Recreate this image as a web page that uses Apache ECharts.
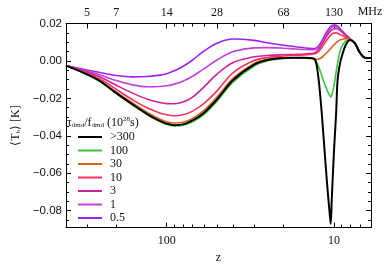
<!DOCTYPE html>
<html><head><meta charset="utf-8">
<script src="https://cdn.jsdelivr.net/npm/echarts@6/dist/echarts.min.js"></script>
<style>html,body{margin:0;padding:0;background:#fff}#c{width:390px;height:270px}</style>
</head><body><div id="c"></div>
<script>
// redshift sample points (x axis, log, reversed)
const redshifts = [400,300,250,200,160,130,110,100,90,80,70,60,50,40,30,25,20,17,15,14,13,12.5,12,11.5,11,10.6,10.45,10.3,10,9.7,9.5,9.2,9,8.5,8,7.5,7,6.5,6];
const seriesNames = ['>300','100','30','10','3','1','0.5'];
const seriesColors = ['#000000','#3cc43c','#e0601a','#f5315a','#d0209a','#c040d8','#a020f0'];
const tGt300 = [-0.0025,-0.0071,-0.0108,-0.0172,-0.0232,-0.0285,-0.0320,-0.0335,-0.0343,-0.0339,-0.0318,-0.0278,-0.0205,-0.0102,-0.0020,0.0005,0.0015,0.0017,0.0017,0.0016,0.0008,-0.0060,-0.0210,-0.0420,-0.0650,-0.0815,-0.0870,-0.0740,-0.0490,-0.0280,-0.0100,-0.0015,0.0020,0.0085,0.0112,0.0095,0.0045,0.0017,0.0016];
const t100 = [-0.0025,-0.0072,-0.0110,-0.0175,-0.0236,-0.0289,-0.0324,-0.0339,-0.0347,-0.0344,-0.0325,-0.0287,-0.0215,-0.0112,-0.0027,0.0000,0.0013,0.0016,0.0017,0.0016,0.0008,-0.0020,-0.0060,-0.0110,-0.0155,-0.0185,-0.0192,-0.0185,-0.0135,-0.0060,-0.0010,0.0050,0.0075,0.0106,0.0113,0.0095,0.0045,0.0017,0.0016];
const t30 = [-0.0025,-0.0069,-0.0105,-0.0166,-0.0225,-0.0276,-0.0310,-0.0325,-0.0332,-0.0328,-0.0307,-0.0266,-0.0193,-0.0092,-0.0013,0.0009,0.0016,0.0017,0.0016,0.0013,0.0009,0.0009,0.0014,0.0028,0.0045,0.0060,0.0066,0.0072,0.0086,0.0097,0.0104,0.0112,0.0115,0.0119,0.0115,0.0096,0.0046,0.0017,0.0016];
const t10 = [-0.0025,-0.0064,-0.0096,-0.0152,-0.0208,-0.0252,-0.0278,-0.0288,-0.0293,-0.0288,-0.0268,-0.0228,-0.0160,-0.0062,0.0002,0.0018,0.0026,0.0030,0.0032,0.0034,0.0038,0.0047,0.0064,0.0088,0.0113,0.0132,0.0138,0.0143,0.0149,0.0150,0.0148,0.0142,0.0138,0.0127,0.0116,0.0096,0.0046,0.0017,0.0016];
const t3 = [-0.0025,-0.0060,-0.0086,-0.0130,-0.0172,-0.0205,-0.0222,-0.0228,-0.0229,-0.0220,-0.0193,-0.0140,-0.0070,-0.0008,0.0022,0.0029,0.0033,0.0035,0.0037,0.0039,0.0044,0.0056,0.0078,0.0106,0.0135,0.0155,0.0161,0.0166,0.0171,0.0172,0.0170,0.0163,0.0156,0.0136,0.0117,0.0096,0.0046,0.0017,0.0016];
const t1 = [-0.0025,-0.0055,-0.0075,-0.0105,-0.0128,-0.0138,-0.0137,-0.0133,-0.0124,-0.0108,-0.0082,-0.0042,0.0005,0.0050,0.0070,0.0071,0.0068,0.0064,0.0061,0.0060,0.0060,0.0070,0.0090,0.0118,0.0148,0.0168,0.0174,0.0178,0.0184,0.0183,0.0179,0.0169,0.0161,0.0138,0.0118,0.0096,0.0046,0.0017,0.0016];
const t05 = [-0.0025,-0.0048,-0.0062,-0.0078,-0.0085,-0.0083,-0.0076,-0.0068,-0.0053,-0.0030,0.0005,0.0052,0.0095,0.0117,0.0110,0.0097,0.0084,0.0076,0.0070,0.0067,0.0066,0.0076,0.0097,0.0126,0.0158,0.0178,0.0184,0.0188,0.0192,0.0190,0.0186,0.0174,0.0164,0.0140,0.0119,0.0096,0.0046,0.0017,0.0016];
const seriesValues = [tGt300, t100, t30, t10, t3, t1, t05];

// bottom axis (redshift) ticks
const zMajorTicks = [10, 100];
const zMinorTicks = [6,7,8,9,20,30,40,50,60,70,80,90,200,300];
// top axis (frequency) ticks: placed at redshifts, labelled in MHz
const topMajorZ = [300, 200, 100, 50, 20, 10];
const topLabels = ['5', '7', '14', '28', '68', '130'];
const topMinorZ = [6,7,8,9,30,40,60,70,80,90];
const yMajorTicks = [-0.08,-0.06,-0.04,-0.02,0,0.02];
const yMinorTicks = [-0.085,-0.075,-0.07,-0.065,-0.055,-0.05,-0.045,-0.035,-0.03,-0.025,-0.015,-0.01,-0.005,0.005,0.01,0.015];

const SERIF = 'Liberation Serif';
const SANS = 'Liberation Sans';
const ink = '#111';

function topLabel(v) {
  let best = 0, bd = Infinity;
  topMajorZ.forEach((z, i) => { const d = Math.abs(Math.log(z) - Math.log(v)); if (d < bd) { bd = d; best = i; } });
  return topLabels[best];
}

function xAx(opt) {
  return Object.assign({
    type: 'log', logBase: 10, inverse: true, min: 6, max: 400, gridIndex: 0,
    splitLine: {show: false}, minorTick: {show: false},
    axisLine: {show: false, onZero: false, lineStyle: {color: '#000', width: 1}},
    axisLabel: {show: false}
  }, opt);
}
function yAx(opt) {
  return Object.assign({
    type: 'value', min: -0.089, max: 0.02, gridIndex: 0,
    splitLine: {show: false},
    axisLine: {show: false, onZero: false, lineStyle: {color: '#000', width: 1}},
    axisLabel: {show: false}
  }, opt);
}

const chart = echarts.init(document.getElementById('c'), null, {renderer: 'canvas'});
chart.setOption({
  animation: false,
  backgroundColor: '#fff',
  grid: {left: 66, right: 19, top: 23.5, bottom: 42.5},
  xAxis: [
    xAx({position: 'bottom', axisLine: {show: true, onZero: false, lineStyle: {color: '#000', width: 1}},
      axisTick: {show: true, inside: true, length: 5, customValues: zMajorTicks, lineStyle: {color: '#000'}},
      axisLabel: {show: true, customValues: zMajorTicks, margin: 7, fontFamily: SERIF, fontSize: 12, color: ink},
      name: 'z', nameLocation: 'middle', nameGap: 20, nameTextStyle: {fontFamily: SERIF, fontSize: 12, color: ink}}),
    xAx({position: 'bottom', axisTick: {show: true, inside: true, length: 3, customValues: zMinorTicks, lineStyle: {color: '#000'}}}),
    xAx({position: 'top', axisLine: {show: true, onZero: false, lineStyle: {color: '#000', width: 1}},
      axisTick: {show: true, inside: true, length: 5, customValues: topMajorZ, lineStyle: {color: '#000'}},
      axisLabel: {show: true, customValues: topMajorZ, margin: 5, fontFamily: SERIF, fontSize: 12, color: ink,
        formatter: v => topLabel(v)}}),
    xAx({position: 'top', axisTick: {show: true, inside: true, length: 3, customValues: topMinorZ, lineStyle: {color: '#000'}}})
  ],
  yAxis: [
    yAx({position: 'left', axisLine: {show: true, onZero: false, lineStyle: {color: '#000', width: 1}},
      axisTick: {show: true, inside: true, length: 5, customValues: yMajorTicks, lineStyle: {color: '#000'}},
      axisLabel: {show: true, customValues: yMajorTicks, margin: 4, fontFamily: SANS, fontSize: 11.5, color: ink,
        formatter: v => v.toFixed(2).replace('-', '\u2212')},
      name: '\u27e8T{s|b}\u27e9 [K]', nameLocation: 'middle', nameRotate: 90, nameGap: 43,
      nameTextStyle: {fontFamily: SERIF, fontSize: 12, color: ink, rich: {s: {fontSize: 7, fontFamily: SERIF, color: ink, padding: [6, 0, 0, 0]}}}}),
    yAx({position: 'left', axisTick: {show: true, inside: true, length: 3, customValues: yMinorTicks, lineStyle: {color: '#000'}}}),
    yAx({position: 'right', axisLine: {show: true, onZero: false, lineStyle: {color: '#000', width: 1}},
      axisTick: {show: true, inside: true, length: 5, customValues: yMajorTicks, lineStyle: {color: '#000'}}}),
    yAx({position: 'right', axisTick: {show: true, inside: true, length: 3, customValues: yMinorTicks, lineStyle: {color: '#000'}}})
  ],
  legend: {
    orient: 'vertical', left: 78, top: 128, padding: 0, itemWidth: 24, itemHeight: 2, itemGap: -4.5,
    icon: 'rect', selectedMode: false,
    data: seriesNames.map((n, i) => ({name: n, itemStyle: {color: seriesColors[i]}})),
    textStyle: {fontFamily: SERIF, fontSize: 12, color: ink, lineHeight: 12, padding: [0, 0, 6, 3]}
  },
  graphic: [
    {type: 'text', left: 67, top: 116, silent: true, style: {
      text: '\u03c4{s|dmd}/f{s|dmd} (10{p|28}s)', fill: ink, font: '12px ' + SERIF,
      rich: {s: {fontSize: 7, fontFamily: SERIF, fill: ink, padding: [5, 0, 0, 0]},
             p: {fontSize: 7, fontFamily: SERIF, fill: ink, padding: [0, 0, 6, 0]}}}},
    {type: 'text', x: 370, y: 12, silent: true, style: {text: 'MHz', fill: ink, font: '12px ' + SERIF,
      align: 'center', verticalAlign: 'middle', textAlign: 'center', textVerticalAlign: 'middle'}}
  ],
  series: seriesNames.map((name, i) => ({
    name: name, type: 'line', xAxisIndex: 0, yAxisIndex: 0,
    data: redshifts.map((z, k) => [z, seriesValues[i][k]]),
    symbol: 'none', smooth: 0.35, z: 20 - i,
    lineStyle: {color: seriesColors[i], width: i === 0 ? 2 : 1.6},
    itemStyle: {color: seriesColors[i]}
  }))
});
</script></body></html>
